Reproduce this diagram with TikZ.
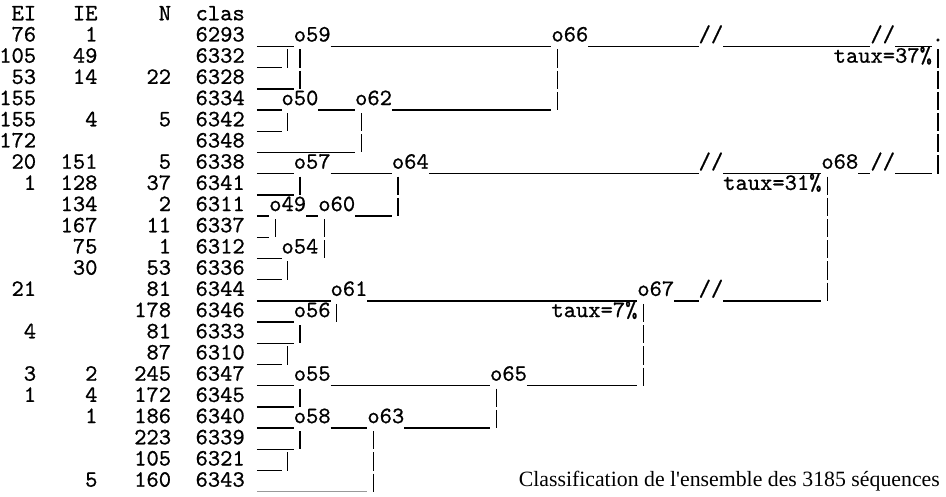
\documentclass[tikz,border=0pt]{standalone}
\usepackage{fontspec}
\newfontfamily\capfont{Liberation Serif}
\newfontfamily\monof{lmmono10-regular.otf}[FakeBold=0.8]
\def\gW{12.27}
\def\gX{-0.7}
\def\gH{21.2}
\def\gB{20.3}
\tikzset{
  tt/.style={font=\monof\fontsize{23.4}{24}\selectfont, inner sep=0pt, outer sep=0pt},
  ul/.style={line width=1.4pt},
  faint/.style={line width=1.3pt, draw=black!40},
  captext/.style={font=\capfont\fontsize{21.8}{24}\selectfont, inner sep=0pt}
}
% underscore run: row, first col, last col
\newcommand\ulx[3]{\draw[ul] ({\gX+#2*\gW},{\gB+#1*\gH+5}) -- ({\gX+(#3+1)*\gW},{\gB+#1*\gH+5});}
% vertical bar: row, col
\newcommand\vbr[2]{\draw[ul] ({\gX+(#2+0.5)*\gW},{\gB+(#1-1)*\gH+8}) -- ({\gX+(#2+0.5)*\gW},{\gB+#1*\gH+5});}
% left-aligned label: name, row, col, text
\newcommand\lbl[4]{\node[tt,anchor=base west] (#1) at ({\gX+#3*\gW},{\gB+#2*\gH}) {#4};}
% right-aligned label: name, row, last col, text
\newcommand\rlbl[4]{\node[tt,anchor=base east] (#1) at ({\gX+(#3+1)*\gW},{\gB+#2*\gH}) {#4};}
\begin{document}
\begin{tikzpicture}[x=1pt,y=-1pt]
\useasboundingbox (0,0) rectangle (946,497);
% header
\rlbl{hEI}{0}{2}{EI}
\rlbl{hIE}{0}{7}{IE}
\rlbl{hN}{0}{13}{N}
\lbl{hcl}{0}{16}{clas}
% table
\rlbl{e1}{1}{2}{76}   \rlbl{i1}{1}{7}{1}                         \lbl{c1}{1}{16}{6293}
\rlbl{e2}{2}{2}{105}  \rlbl{i2}{2}{7}{49}                        \lbl{c2}{2}{16}{6332}
\rlbl{e3}{3}{2}{53}   \rlbl{i3}{3}{7}{14}  \rlbl{n3}{3}{13}{22}  \lbl{c3}{3}{16}{6328}
\rlbl{e4}{4}{2}{155}                                             \lbl{c4}{4}{16}{6334}
\rlbl{e5}{5}{2}{155}  \rlbl{i5}{5}{7}{4}   \rlbl{n5}{5}{13}{5}   \lbl{c5}{5}{16}{6342}
\rlbl{e6}{6}{2}{172}                                             \lbl{c6}{6}{16}{6348}
\rlbl{e7}{7}{2}{20}   \rlbl{i7}{7}{7}{151} \rlbl{n7}{7}{13}{5}   \lbl{c7}{7}{16}{6338}
\rlbl{e8}{8}{2}{1}    \rlbl{i8}{8}{7}{128} \rlbl{n8}{8}{13}{37}  \lbl{c8}{8}{16}{6341}
                      \rlbl{i9}{9}{7}{134} \rlbl{n9}{9}{13}{2}   \lbl{c9}{9}{16}{6311}
                      \rlbl{i10}{10}{7}{167} \rlbl{n10}{10}{13}{11} \lbl{c10}{10}{16}{6337}
                      \rlbl{i11}{11}{7}{75}  \rlbl{n11}{11}{13}{1}  \lbl{c11}{11}{16}{6312}
                      \rlbl{i12}{12}{7}{30}  \rlbl{n12}{12}{13}{53} \lbl{c12}{12}{16}{6336}
\rlbl{e13}{13}{2}{21}                        \rlbl{n13}{13}{13}{81} \lbl{c13}{13}{16}{6344}
                                             \rlbl{n14}{14}{13}{178} \lbl{c14}{14}{16}{6346}
\rlbl{e15}{15}{2}{4}                         \rlbl{n15}{15}{13}{81} \lbl{c15}{15}{16}{6333}
                                             \rlbl{n16}{16}{13}{87} \lbl{c16}{16}{16}{6310}
\rlbl{e17}{17}{2}{3}  \rlbl{i17}{17}{7}{2}   \rlbl{n17}{17}{13}{245} \lbl{c17}{17}{16}{6347}
\rlbl{e18}{18}{2}{1}  \rlbl{i18}{18}{7}{4}   \rlbl{n18}{18}{13}{172} \lbl{c18}{18}{16}{6345}
                      \rlbl{i19}{19}{7}{1}   \rlbl{n19}{19}{13}{186} \lbl{c19}{19}{16}{6340}
                                             \rlbl{n20}{20}{13}{223} \lbl{c20}{20}{16}{6339}
                                             \rlbl{n21}{21}{13}{105} \lbl{c21}{21}{16}{6321}
                      \rlbl{i22}{22}{7}{5}   \rlbl{n22}{22}{13}{160} \lbl{c22}{22}{16}{6343}
% tree labels
\lbl{o59}{1}{24}{o59} \lbl{o66}{1}{45}{o66} \lbl{s1a}{1}{57}{//} \lbl{s1b}{1}{71}{//} \lbl{root}{1}{76}{.}
\lbl{t37}{2}{68}{taux=37\%}
\lbl{o50}{4}{23}{o50} \lbl{o62}{4}{29}{o62}
\lbl{o57}{7}{24}{o57} \lbl{o64}{7}{32}{o64} \lbl{s7a}{7}{57}{//} \lbl{o68}{7}{67}{o68} \lbl{s7b}{7}{71}{//}
\lbl{t31}{8}{59}{taux=31\%}
\lbl{o49}{9}{22}{o49} \lbl{o60}{9}{26}{o60}
\lbl{o54}{11}{23}{o54}
\lbl{o61}{13}{27}{o61} \lbl{o67}{13}{52}{o67} \lbl{s13}{13}{57}{//}
\lbl{o56}{14}{24}{o56} \lbl{t7}{14}{45}{taux=7\%}
\lbl{o55}{17}{24}{o55} \lbl{o65}{17}{40}{o65}
\lbl{o58}{19}{24}{o58} \lbl{o63}{19}{30}{o63}
% tree lines
\ulx{1}{21}{23} \ulx{1}{27}{44} \ulx{1}{48}{56} \ulx{1}{59}{70} \ulx{1}{73}{75}
\ulx{2}{21}{22} \vbr{2}{23} \vbr{2}{24} \vbr{2}{45} \vbr{2}{76}
\ulx{3}{21}{23} \vbr{3}{24} \vbr{3}{45} \vbr{3}{76}
\ulx{4}{21}{22} \ulx{4}{26}{28} \ulx{4}{32}{44} \vbr{4}{45} \vbr{4}{76}
\ulx{5}{21}{22} \vbr{5}{23} \vbr{5}{29} \vbr{5}{76}
\ulx{6}{21}{28} \vbr{6}{29} \vbr{6}{76}
\ulx{7}{21}{23} \ulx{7}{27}{31} \ulx{7}{35}{56} \ulx{7}{59}{66} \ulx{7}{70}{70} \ulx{7}{73}{75} \vbr{7}{76}
\ulx{8}{21}{23} \vbr{8}{24} \vbr{8}{32} \vbr{8}{67}
\ulx{9}{21}{21} \ulx{9}{25}{25} \ulx{9}{29}{31} \vbr{9}{32} \vbr{9}{67}
\ulx{10}{21}{21} \vbr{10}{22} \vbr{10}{26} \vbr{10}{67}
\ulx{11}{21}{22} \vbr{11}{26} \vbr{11}{67}
\ulx{12}{21}{22} \vbr{12}{23} \vbr{12}{67}
\ulx{13}{21}{26} \ulx{13}{30}{51} \ulx{13}{55}{56} \ulx{13}{59}{66} \vbr{13}{67}
\ulx{14}{21}{23} \vbr{14}{27} \vbr{14}{52}
\ulx{15}{21}{23} \vbr{15}{24} \vbr{15}{52}
\ulx{16}{21}{22} \vbr{16}{23} \vbr{16}{52}
\ulx{17}{21}{23} \ulx{17}{27}{39} \ulx{17}{43}{51} \vbr{17}{52}
\ulx{18}{21}{23} \vbr{18}{24} \vbr{18}{40}
\ulx{19}{21}{23} \ulx{19}{27}{29} \ulx{19}{33}{39} \vbr{19}{40}
\ulx{20}{21}{23} \vbr{20}{24} \vbr{20}{30}
\ulx{21}{21}{22} \vbr{21}{23} \vbr{21}{30}
\draw[faint] ({\gX+21*\gW},{\gB+22*\gH+5}) -- ({\gX+30*\gW},{\gB+22*\gH+5});
\vbr{22}{30}
% caption
\node[captext,anchor=base east] (caption) at (940,{\gB+22*\gH}) {Classification de l'ensemble des 3185 séquences};
\end{tikzpicture}
\end{document}
